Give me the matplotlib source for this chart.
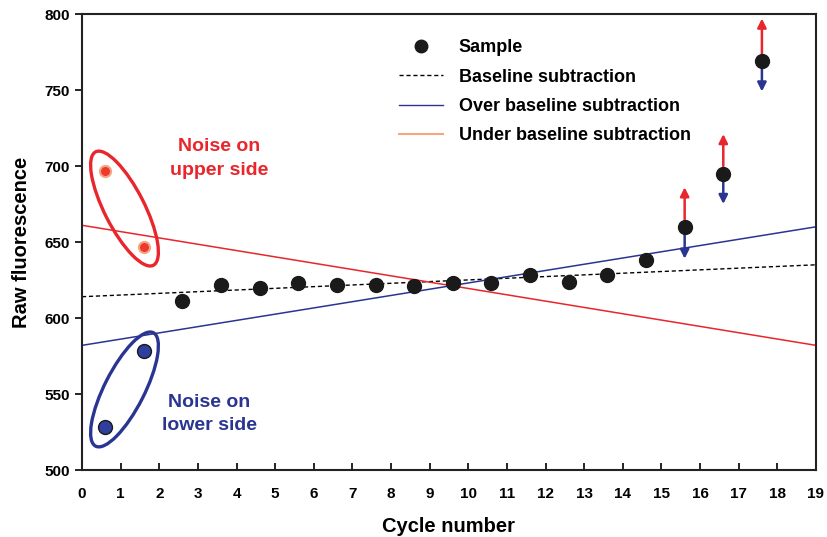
import numpy as np
import matplotlib.pyplot as plt
from matplotlib.lines import Line2D
from matplotlib.patches import Ellipse
from matplotlib.transforms import IdentityTransform

plt.rcParams['font.family'] = ['Liberation Sans', 'DejaVu Sans']
plt.rcParams['font.weight'] = 'bold'

# data
cycles = [2.6, 3.6, 4.6, 5.6, 6.6, 7.6, 8.6, 9.6, 10.6, 11.6, 12.6, 13.6, 14.6, 15.6, 16.6, 17.6]
fluor = [611, 622, 620, 623, 622, 622, 621, 623, 623, 628, 624, 628, 638, 660, 695, 769]
noise_x = [0.6, 1.6]
noise_up = [697, 647]
noise_low = [528, 578]
line_x = [0, 19]
baseline = [614, 635]
over_base = [582, 660]
under_base = [661, 582]
arrow_x = [15.6, 16.6, 17.6]
arrow_up = [(665, 686), (700, 721), (774, 797)]
arrow_down = [(655, 639), (690, 675), (764, 749)]

fig = plt.figure(figsize=(8.27, 5.37), dpi=100)
ax = fig.add_axes([82/827, 1-470/537, (816-82)/827, (470-14)/537])

ax.plot(line_x, baseline, color='black', ls=(0, (3, 2)), lw=1)
ax.plot(line_x, over_base, color='#2a3592', lw=1.1)
ax.plot(line_x, under_base, color='#e8262b', lw=1.1)

ax.plot(cycles, fluor, 'o', color='#1a1a1a', ms=10, zorder=5)
ax.plot(noise_x, noise_up, 'o', mfc='#ee3a2e', mec='#f4a582', mew=1.5, ms=8, zorder=5)
ax.plot(noise_x, noise_low, 'o', mfc='#2e3f9e', mec='#1a1a1a', mew=1, ms=10, zorder=5)

for x, (a, b) in zip(arrow_x, arrow_up):
    ax.annotate('', xy=(x, b), xytext=(x, a),
                arrowprops=dict(arrowstyle='-|>', color='#e8262b', lw=1.8,
                                mutation_scale=13, shrinkA=0, shrinkB=0))
for x, (a, b) in zip(arrow_x, arrow_down):
    ax.annotate('', xy=(x, b), xytext=(x, a),
                arrowprops=dict(arrowstyle='-|>', color='#2a3592', lw=1.8,
                                mutation_scale=13, shrinkA=0, shrinkB=0))

ax.text(3.55, 705, 'Noise on\nupper side', color='#e8262b', fontsize=14,
        fontweight='bold', ha='center', va='center', linespacing=1.5)
ax.text(3.3, 537, 'Noise on\nlower side', color='#2a3592', fontsize=14,
        fontweight='bold', ha='center', va='center', linespacing=1.5)

ax.set_xlim(0, 19)
ax.set_ylim(500, 800)
ax.set_xticks(range(0, 20))
ax.set_yticks(range(500, 801, 50))
ax.tick_params(axis='x', direction='in', length=5, width=1.2, labelsize=11, pad=12)
ax.tick_params(axis='y', direction='out', length=5, width=1.2, labelsize=11)
for lab in ax.get_xticklabels() + ax.get_yticklabels():
    lab.set_fontweight('bold')
for sp in ax.spines.values():
    sp.set_linewidth(1.5)
    sp.set_color('#222222')
ax.set_xlabel('Cycle number', fontsize=14.5, fontweight='bold', labelpad=12)
ax.set_ylabel('Raw fluorescence', fontsize=14.5, fontweight='bold', labelpad=10)

# ellipses around noise points, drawn in display space
for ys, col in [(noise_up, '#e8262b'), (noise_low, '#2a3592')]:
    p = ax.transData.transform(list(zip(noise_x, ys)))
    c = p.mean(axis=0)
    d = p[1] - p[0]
    ang = np.degrees(np.arctan2(d[1], d[0]))
    L = np.hypot(*d)
    e = Ellipse(c, L + 42, 40, angle=ang, fill=False, ec=col, lw=2.4,
                transform=IdentityTransform())
    fig.add_artist(e)

handles = [
    Line2D([], [], ls='none', marker='o', color='#1a1a1a', ms=9),
    Line2D([], [], color='black', ls=(0, (3, 2)), lw=1),
    Line2D([], [], color='#2a3592', lw=1),
    Line2D([], [], color='#f4a582', lw=1.5),
]
labels = ['Sample', 'Baseline subtraction', 'Over baseline subtraction',
          'Under baseline subtraction']
ax.legend(handles, labels, loc='upper left', bbox_to_anchor=(0.41, 0.98),
          frameon=False, prop={'weight': 'bold', 'size': 13},
          handlelength=2.4, handletextpad=0.9, labelspacing=0.68)

fig.savefig('out.png', dpi=100)
